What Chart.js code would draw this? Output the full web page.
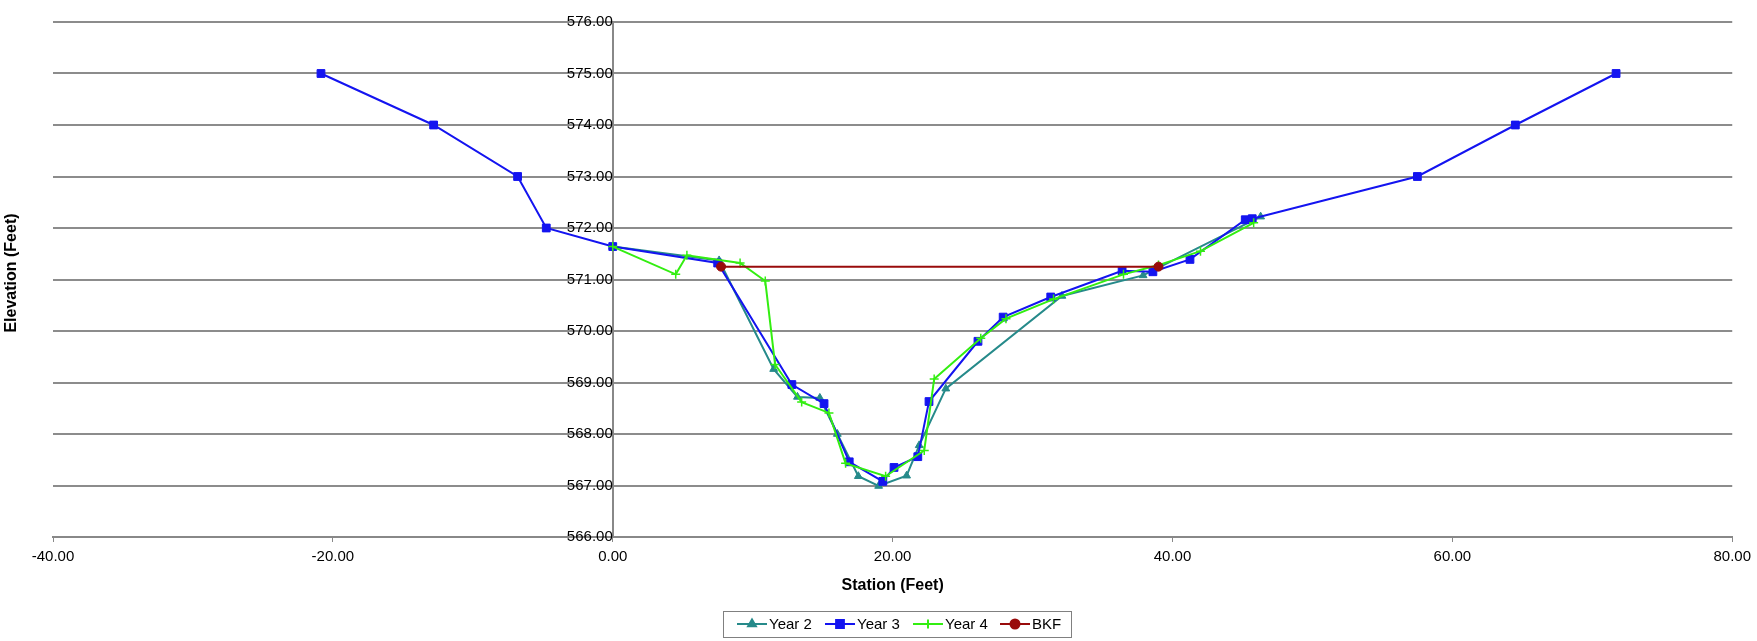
<!DOCTYPE html>
<html>
<head>
<meta charset="utf-8">
<script src="https://cdn.jsdelivr.net/npm/chart.js@4.4.1/dist/chart.umd.min.js"></script>
<style>
  html, body { margin: 0; padding: 0; background: #ffffff; }
  #wrap { width: 1757px; height: 641px; }
</style>
</head>
<body>
<div id="wrap"><canvas id="c" width="1757" height="641"></canvas></div>
<script>
// ---- data ----
const year2X = [0, 7.6, 11.5, 13.2, 14.8, 16.05, 17.55, 19.0, 21.0, 21.9, 23.8, 32.1, 37.9, 46.3];
const year2Y = [571.64, 571.37, 569.26, 568.72, 568.70, 568.0, 567.18, 566.99, 567.19, 567.78, 568.88, 570.68, 571.08, 572.22];

const year3X = [-20.85, -12.8, -6.8, -4.75, 0, 7.5, 12.8, 15.1, 16.9, 19.3, 20.1, 21.8, 22.6, 26.1, 27.9, 31.3, 36.4, 38.6, 41.25, 45.2, 45.7, 57.5, 64.5, 71.7];
const year3Y = [575.0, 574.0, 573.0, 572.0, 571.64, 571.32, 568.96, 568.59, 567.46, 567.08, 567.35, 567.56, 568.63, 569.80, 570.27, 570.66, 571.17, 571.15, 571.39, 572.16, 572.18, 573.0, 574.0, 575.0];

const year4X = [0, 4.5, 5.3, 9.1, 10.9, 11.6, 13.5, 15.45, 16.64, 19.5, 22.26, 22.97, 26.3, 28.1, 31.5, 36.5, 39.0, 42.0, 45.8];
const year4Y = [571.64, 571.10, 571.47, 571.32, 570.97, 569.35, 568.62, 568.41, 567.43, 567.18, 567.68, 569.07, 569.86, 570.24, 570.62, 571.10, 571.28, 571.55, 572.10];

const bkfX = [7.74, 39.0];
const bkfY = [571.25, 571.25];

const seriesNames = ['Year 2', 'Year 3', 'Year 4', 'BKF'];
const xTicks = [-40, -20, 0, 20, 40, 60, 80];
const yTicks = [566, 567, 568, 569, 570, 571, 572, 573, 574, 575, 576];

const COLORS = ['#268a8a', '#1414f0', '#33ee11', '#990b0b'];
const STYLES = ['triangle', 'rect', 'cross', 'circle'];
const RADII = [4.5, 5.5, 4.5, 4.5];

function pts(xs, ys) { return xs.map((x, i) => ({ x: x, y: ys[i] })); }

const FONT = '"Liberation Sans", Arial, sans-serif';

function mkDs(i, data, order) {
  return {
    label: seriesNames[i],
    data: data,
    borderColor: COLORS[i],
    backgroundColor: COLORS[i],
    pointBackgroundColor: COLORS[i],
    pointBorderColor: COLORS[i],
    pointStyle: STYLES[i],
    pointRadius: RADII[i],
    pointBorderWidth: STYLES[i] === 'cross' ? 1.5 : 1,
    borderWidth: 2,
    showLine: true,
    tension: 0,
    order: order
  };
}

const extraPlugin = {
  id: 'extras',
  afterDraw(chart) {
    const ctx = chart.ctx;
    // y-axis title
    ctx.save();
    ctx.fillStyle = '#000';
    ctx.font = 'bold 16px ' + FONT;
    ctx.textAlign = 'center';
    ctx.textBaseline = 'middle';
    ctx.translate(12, 273);
    ctx.rotate(-Math.PI / 2);
    ctx.fillText('Elevation (Feet)', 0, 0);
    ctx.restore();

    // legend box
    ctx.save();
    const bx = 723, by = 611, bw = 348, bh = 26;
    ctx.fillStyle = '#ffffff';
    ctx.fillRect(bx, by, bw, bh);
    ctx.strokeStyle = '#808080';
    ctx.lineWidth = 1;
    ctx.strokeRect(bx + 0.5, by + 0.5, bw, bh);
    const lineStarts = [737, 825, 913, 1000];
    const cy = by + bh / 2;
    ctx.font = '15px ' + FONT;
    ctx.textBaseline = 'middle';
    ctx.textAlign = 'left';
    for (let i = 0; i < 4; i++) {
      const lx = lineStarts[i];
      ctx.strokeStyle = COLORS[i];
      ctx.fillStyle = COLORS[i];
      ctx.lineWidth = 2;
      ctx.beginPath();
      ctx.moveTo(lx, cy);
      ctx.lineTo(lx + 30, cy);
      ctx.stroke();
      Chart.helpers.drawPoint(ctx, {
        pointStyle: STYLES[i], radius: RADII[i], rotation: 0,
        borderWidth: STYLES[i] === 'cross' ? 1.5 : 1
      }, lx + 15, cy);
      ctx.fillStyle = '#000';
      ctx.fillText(seriesNames[i], lx + 32, cy + 1);
    }
    ctx.restore();
  }
};

const chart = new Chart(document.getElementById('c'), {
  type: 'scatter',
  data: {
    datasets: [
      mkDs(0, pts(year2X, year2Y), 4),
      mkDs(1, pts(year3X, year3Y), 3),
      mkDs(2, pts(year4X, year4Y), 2),
      mkDs(3, pts(bkfX, bkfY), 1)
    ]
  },
  options: {
    responsive: false,
    animation: false,
    devicePixelRatio: 1,
    layout: { padding: { left: 53, right: 23, top: 10, bottom: 42 } },
    plugins: {
      legend: { display: false },
      tooltip: { enabled: false }
    },
    scales: {
      x: {
        type: 'linear',
        position: 'bottom',
        min: xTicks[0],
        max: xTicks[xTicks.length - 1],
        afterBuildTicks: (s) => { s.ticks = xTicks.map(v => ({ value: v })); },
        afterFit: (s) => { s.height = 62; },
        ticks: {
          callback: (v) => Number(v).toFixed(2),
          font: { family: FONT, size: 15 },
          color: '#000',
          padding: 6,
          maxRotation: 0,
          autoSkip: false
        },
        grid: { drawOnChartArea: false, drawTicks: true, tickLength: 5, color: '#888888', lineWidth: 1 },
        border: { display: true, color: '#888888', width: 2 },
        title: {
          display: true,
          text: 'Station (Feet)',
          font: { family: FONT, size: 16, weight: 'bold' },
          color: '#000',
          padding: { top: 0, bottom: 4 }
        }
      },
      y: {
        type: 'linear',
        position: { x: 0 },
        min: yTicks[0],
        max: yTicks[yTicks.length - 1],
        afterBuildTicks: (s) => { s.ticks = yTicks.map(v => ({ value: v })); },
        ticks: {
          callback: (v) => Number(v).toFixed(2),
          font: { family: FONT, size: 15 },
          color: '#000',
          padding: 13,
          autoSkip: false
        },
        grid: { drawOnChartArea: true, drawTicks: false, color: '#8c8c8c', lineWidth: 2 },
        border: { display: true, color: '#888888', width: 2 }
      }
    }
  },
  plugins: [extraPlugin]
});
</script>
</body>
</html>
